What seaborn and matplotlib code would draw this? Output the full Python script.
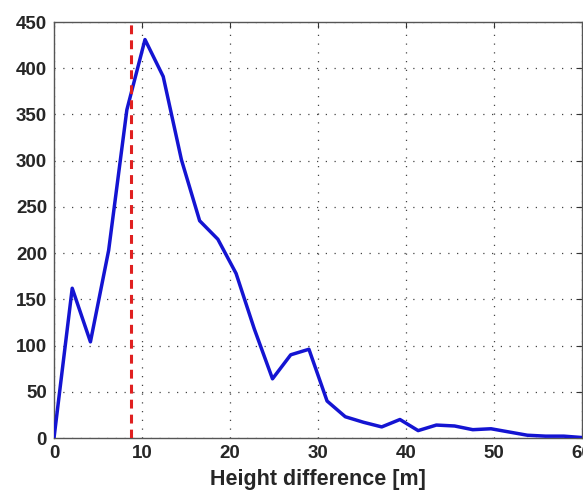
import numpy as np
import pandas as pd
import matplotlib
matplotlib.use("Agg")
import matplotlib.pyplot as plt
import seaborn as sns

# ==================== data ====================
height_diff = [0, 2.07, 4.14, 6.21, 8.28, 10.34, 12.41, 14.48, 16.55, 18.62,
               20.69, 22.76, 24.83, 26.90, 28.97, 31.03, 33.10, 35.17, 37.24, 39.31,
               41.38, 43.45, 45.52, 47.59, 49.66, 51.72, 53.79, 55.86, 57.93, 60.0]
counts = [0, 162, 104, 203, 355, 431, 391, 301, 235, 215,
          178, 118, 64, 90, 96, 40, 23, 17, 12, 20,
          8, 14, 13, 9, 10, 6.5, 3, 2, 2, 0.5]
threshold = 8.8

x_ticks = [0, 10, 20, 30, 40, 50, 60]
y_ticks = [0, 50, 100, 150, 200, 250, 300, 350, 400, 450]

df = pd.DataFrame({'height': height_diff, 'count': counts})

# ==================== style ====================
sns.set_style("white")
plt.rcParams['font.family'] = ['Liberation Sans', 'DejaVu Sans']
plt.rcParams['font.weight'] = 'bold'

fig = plt.figure(figsize=(5.83, 4.94), dpi=100)
ax = fig.add_axes([54 / 583, 56 / 494, 528 / 583, 416 / 494])

sns.lineplot(data=df, x='height', y='count', ax=ax, color='#1414d2',
             linewidth=2.5, zorder=3)
ax.axvline(threshold, color='#e02020', linestyle=(0, (2.9, 2.0)),
           linewidth=2.2, zorder=4)

ax.set_xlim(0, 60)
ax.set_ylim(0, 450)
ax.set_xticks(x_ticks)
ax.set_yticks(y_ticks)

ax.grid(True, linestyle=(0, (1, 6)), color='#444444', linewidth=0.9)
for s in ax.spines.values():
    s.set_color('#555555')
    s.set_linewidth(1.0)

ax.tick_params(direction='in', length=4, width=0.8, color='#333333',
               top=True, right=True, labelsize=13.5, pad=5)
for lbl in ax.get_xticklabels() + ax.get_yticklabels():
    lbl.set_fontweight('bold')

ax.set_xlabel('Height difference [m]', fontsize=15.5, fontweight='bold', labelpad=5)
ax.set_ylabel('')

fig.savefig('out.png', dpi=100)
